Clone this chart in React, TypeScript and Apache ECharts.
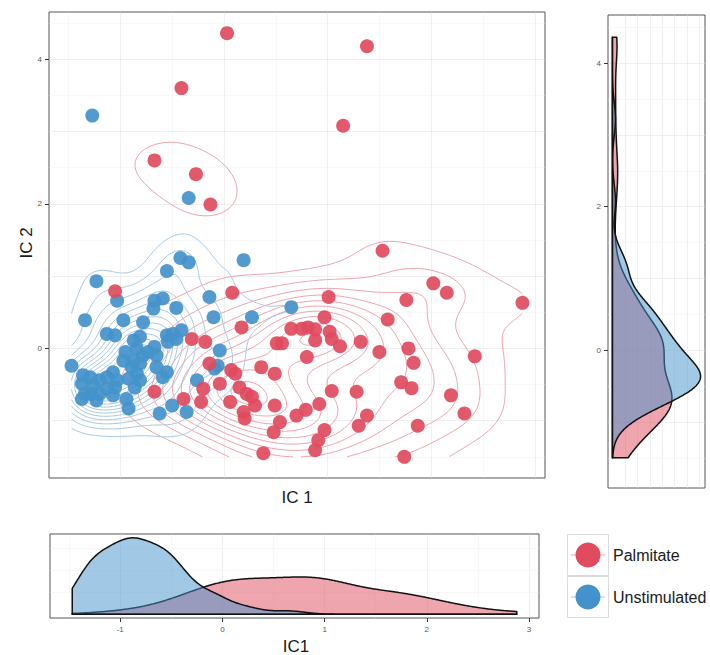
import React, { useEffect, useRef } from "react";
import * as echarts from "echarts";

// IC1 / IC2 scores per cell, one array per condition
const palmitate: [number, number][] = [
  [0.03, 4.36], [-0.41, 3.6], [-0.67, 2.6], [-0.27, 2.41], [-0.13, 1.99], [1.38, 4.18], [1.15, 3.08],
  [-1.05, 0.79], [0.08, 0.77], [0.17, 0.29], [-0.31, 0.13], [-0.18, 0.09], [-0.14, -0.21], [0.07, -0.3],
  [0.11, -0.35], [-0.67, -0.6], [-0.39, -0.7], [-0.22, -0.74], [-0.2, -0.56], [-0.04, -0.49], [0.06, -0.74],
  [0.15, -0.54], [0.22, -0.63], [0.27, -0.67], [0.19, -0.88], [0.2, -0.97], [0.36, -0.26], [0.49, -0.35],
  [0.3, -0.79], [0.49, -0.79], [0.54, -1.02], [0.48, -1.16], [0.51, 0.07], [0.56, 0.07], [0.65, 0.27],
  [0.38, -1.45], [0.75, 0.27], [1.53, 1.35], [2.02, 0.9], [2.15, 0.77], [2.88, 0.63], [1.01, 0.71],
  [1.76, 0.67], [0.97, 0.43], [1.58, 0.4], [0.81, 0.29], [0.88, 0.26], [0.88, 0.11], [1.02, 0.23],
  [1.04, 0.13], [1.12, 0.03], [1.32, 0.09], [1.5, -0.05], [1.78, 0.0], [1.83, -0.2], [0.8, -0.12],
  [2.42, -0.11], [1.04, -0.59], [1.28, -0.6], [1.71, -0.47], [1.81, -0.55], [2.19, -0.65], [2.32, -0.9],
  [0.92, -0.77], [0.79, -0.85], [0.7, -0.93], [1.38, -0.93], [1.3, -1.07], [1.87, -1.07], [0.97, -1.13],
  [0.91, -1.27], [0.88, -1.41], [1.74, -1.5],
];

const unstimulated: [number, number][] = [
  [-1.27, 3.22], [-0.34, 2.08], [-1.23, 0.93], [-0.42, 1.25], [-0.34, 1.19], [-0.55, 1.07], [0.19, 1.22],
  [-1.34, 0.39], [-1.03, 0.66], [-0.97, 0.39], [-0.78, 0.36], [-0.67, 0.66], [-0.59, 0.69], [-0.68, 0.55],
  [-0.46, 0.56], [-0.14, 0.71], [-0.1, 0.43], [0.27, 0.43], [0.65, 0.57], [-1.13, 0.2], [-1.05, 0.18],
  [-0.87, 0.11], [-0.81, 0.16], [-0.55, 0.18], [-0.49, 0.2], [-0.41, 0.25], [-1.47, -0.24], [-0.95, -0.05],
  [-0.84, 0.0], [-0.67, 0.02], [-0.65, -0.1], [-0.54, 0.09], [-0.46, 0.13], [-0.04, -0.03], [-1.36, -0.37],
  [-1.37, -0.49], [-1.34, -0.63], [-1.37, -0.7], [-1.26, -0.51], [-1.2, -0.44], [-1.13, -0.56], [-1.2, -0.63],
  [-1.23, -0.72], [-1.07, -0.33], [-1.03, -0.44], [-1.05, -0.54], [-1.07, -0.65], [-0.97, -0.17], [-0.89, -0.26],
  [-0.81, -0.21], [-0.78, -0.1], [-0.92, -0.42], [-0.84, -0.35], [-0.86, -0.54], [-0.81, -0.44], [-0.94, -0.7],
  [-0.92, -0.83], [-0.65, -0.26], [-0.59, -0.4], [-0.55, -0.33], [-0.62, -0.9], [-0.5, -0.79], [-0.36, -0.88],
  [-0.26, -0.44], [-0.06, -0.24], [-0.09, -0.28], [-1.29, -0.4], [-1.13, -0.4], [-1.28, -0.63], [-0.87, -0.17],
  [-0.73, -0.05],
];

const groupNames = ["Palmitate", "Unstimulated"];
const pointColors = ["#E04B5E", "#4492CB"];
const contourColors = ["#EEA3AE", "#A7CAE2"];
const areaColors = ["rgba(224,75,94,0.5)", "rgba(68,146,203,0.5)"];

const ic2TickLabels = [0, 2, 4];
const ic1TickLabels = [-1, 0, 1, 2, 3];
const ic1GridLines = [-1.5, -1, -0.5, 0, 0.5, 1, 1.5, 2, 2.5, 3];
const ic2GridLines = [-1.5, -1, -0.5, 0, 0.5, 1, 1.5, 2, 2.5, 3, 3.5, 4, 4.5];

const FONT = "'Liberation Sans', Arial, Helvetica, sans-serif";

// ---- small statistics helpers (density estimation like R's density / MASS::kde2d) ----
const dnorm = (u: number) => Math.exp(-0.5 * u * u) / Math.sqrt(2 * Math.PI);

function quantile(sorted: number[], p: number) {
  const h = (sorted.length - 1) * p;
  const lo = Math.floor(h);
  const hi = Math.min(lo + 1, sorted.length - 1);
  return sorted[lo] + (h - lo) * (sorted[hi] - sorted[lo]);
}

function spread(v: number[]) {
  const n = v.length;
  const mean = v.reduce((a, b) => a + b, 0) / n;
  const sd = Math.sqrt(v.reduce((a, b) => a + (b - mean) * (b - mean), 0) / (n - 1));
  const s = [...v].sort((a, b) => a - b);
  const iqr = quantile(s, 0.75) - quantile(s, 0.25);
  return Math.min(sd, iqr / 1.34) || sd;
}

const bwNrd0 = (v: number[]) => 0.9 * spread(v) * Math.pow(v.length, -0.2);
// MASS::bandwidth.nrd / 4, as used by kde2d
const kdeSd = (v: number[]) => 1.06 * spread(v) * Math.pow(v.length, -0.2);

function density1d(v: number[], from: number, to: number, n = 512) {
  const bw = bwNrd0(v);
  const out: [number, number][] = [];
  for (let i = 0; i < n; i++) {
    const g = from + ((to - from) * i) / (n - 1);
    let s = 0;
    for (const x of v) s += dnorm((g - x) / bw);
    out.push([g, s / (v.length * bw)]);
  }
  return out;
}

function kde2d(pts: [number, number][], xr: [number, number], yr: [number, number], n = 100) {
  const xs = pts.map((p) => p[0]);
  const ys = pts.map((p) => p[1]);
  const hx = kdeSd(xs);
  const hy = kdeSd(ys);
  const gx: number[] = [];
  const gy: number[] = [];
  for (let i = 0; i < n; i++) {
    gx.push(xr[0] + ((xr[1] - xr[0]) * i) / (n - 1));
    gy.push(yr[0] + ((yr[1] - yr[0]) * i) / (n - 1));
  }
  const ax = gx.map((g) => xs.map((x) => dnorm((g - x) / hx)));
  const ay = gy.map((g) => ys.map((y) => dnorm((g - y) / hy)));
  const z: number[][] = [];
  for (let i = 0; i < n; i++) {
    const row: number[] = [];
    for (let j = 0; j < n; j++) {
      let s = 0;
      for (let k = 0; k < pts.length; k++) s += ax[i][k] * ay[j][k];
      row.push(s / (pts.length * hx * hy));
    }
    z.push(row);
  }
  return { gx, gy, z };
}

// R's pretty() step choice
function prettyStep(lo: number, hi: number, n: number) {
  const cell = (hi - lo) / n;
  const base = Math.pow(10, Math.floor(Math.log10(cell)));
  let unit = base;
  const h = 1.5;
  const h5 = 0.5 + 1.5 * h;
  if (2 * base - cell < h * (cell - unit)) {
    unit = 2 * base;
    if (5 * base - cell < h5 * (cell - unit)) {
      unit = 5 * base;
      if (10 * base - cell < h * (cell - unit)) unit = 10 * base;
    }
  }
  return unit;
}

// marching squares, chained into polylines
function isolines(gx: number[], gy: number[], z: number[][], level: number) {
  const pos = new Map<string, [number, number]>();
  const adj = new Map<string, string[]>();
  const link = (a: string, b: string) => {
    if (!adj.has(a)) adj.set(a, []);
    if (!adj.has(b)) adj.set(b, []);
    adj.get(a)!.push(b);
    adj.get(b)!.push(a);
  };
  const lerp = (a: number, b: number, va: number, vb: number) => a + ((level - va) / (vb - va)) * (b - a);
  for (let i = 0; i < gx.length - 1; i++) {
    for (let j = 0; j < gy.length - 1; j++) {
      const v00 = z[i][j], v10 = z[i + 1][j], v11 = z[i + 1][j + 1], v01 = z[i][j + 1];
      const b00 = v00 >= level, b10 = v10 >= level, b11 = v11 >= level, b01 = v01 >= level;
      const e: Record<string, string> = {};
      if (b00 !== b10) {
        const k = `h${i},${j}`;
        pos.set(k, [lerp(gx[i], gx[i + 1], v00, v10), gy[j]]);
        e.bottom = k;
      }
      if (b10 !== b11) {
        const k = `v${i + 1},${j}`;
        pos.set(k, [gx[i + 1], lerp(gy[j], gy[j + 1], v10, v11)]);
        e.right = k;
      }
      if (b01 !== b11) {
        const k = `h${i},${j + 1}`;
        pos.set(k, [lerp(gx[i], gx[i + 1], v01, v11), gy[j + 1]]);
        e.top = k;
      }
      if (b00 !== b01) {
        const k = `v${i},${j}`;
        pos.set(k, [gx[i], lerp(gy[j], gy[j + 1], v00, v01)]);
        e.left = k;
      }
      const keys = Object.values(e);
      if (keys.length === 2) link(keys[0], keys[1]);
      else if (keys.length === 4) {
        const center = (v00 + v10 + v11 + v01) / 4 >= level;
        if (center === b00) {
          link(e.bottom, e.right);
          link(e.left, e.top);
        } else {
          link(e.bottom, e.left);
          link(e.top, e.right);
        }
      }
    }
  }
  const used = new Set<string>();
  const sid = (a: string, b: string) => (a < b ? a + "|" + b : b + "|" + a);
  const walk = (start: string) => {
    const path = [start];
    let cur = start;
    for (;;) {
      let next: string | null = null;
      for (const nb of adj.get(cur) || []) {
        const s = sid(cur, nb);
        if (!used.has(s)) {
          used.add(s);
          next = nb;
          break;
        }
      }
      if (next === null) break;
      path.push(next);
      cur = next;
    }
    return path;
  };
  const lines: [number, number][][] = [];
  const starts = [...adj.keys()].filter((k) => adj.get(k)!.length === 1);
  for (const k of [...starts, ...adj.keys()]) {
    const p = walk(k);
    if (p.length > 1) lines.push(p.map((q) => pos.get(q)!));
  }
  return lines;
}

function buildOption() {
  const groups = [palmitate, unstimulated];
  const all = [...palmitate, ...unstimulated];
  const xs = all.map((p) => p[0]);
  const ys = all.map((p) => p[1]);
  const xr: [number, number] = [Math.min(...xs), Math.max(...xs)];
  const yr: [number, number] = [Math.min(...ys), Math.max(...ys)];
  const xPad = (xr[1] - xr[0]) * 0.05;
  const yPad = (yr[1] - yr[0]) * 0.05;
  const xLo = xr[0] - xPad, xHi = xr[1] + xPad;
  const yLo = yr[0] - yPad, yHi = yr[1] + yPad;
  const sideLo = -1.92, sideHi = 4.67;

  // contour lines per condition
  const contourSeries = groups.map((pts, gi) => {
    const { gx, gy, z } = kde2d(pts, xr, yr, 100);
    let zMax = 0;
    for (const r of z) for (const v of r) zMax = Math.max(zMax, v);
    const step = prettyStep(0, zMax, 10);
    const polylines: [number, number][][] = [];
    for (let lv = step; lv < zMax; lv += step) polylines.push(...isolines(gx, gy, z, lv));
    return {
      type: "lines",
      coordinateSystem: "cartesian2d",
      xAxisIndex: 0,
      yAxisIndex: 0,
      polyline: true,
      silent: true,
      z: 2,
      lineStyle: { color: contourColors[gi], width: 1, opacity: 1 },
      data: polylines.map((c) => ({ coords: c })),
    };
  });

  // marginal densities
  const densX = groups.map((pts) => density1d(pts.map((p) => p[0]), xr[0], xr[1]));
  const densY = groups.map((pts) => density1d(pts.map((p) => p[1]), yr[0], yr[1]));
  const maxX = Math.max(...densX.flat().map((d) => d[1]));
  const maxY = Math.max(...densY.flat().map((d) => d[1]));

  const polygonSeries = (poly: number[][], fill: string, axisIndex: number) => ({
    type: "custom",
    xAxisIndex: axisIndex,
    yAxisIndex: axisIndex,
    silent: true,
    z: 3,
    data: [[poly[0][0], poly[0][1]]],
    renderItem: (_params: any, api: any) => ({
      type: "polygon",
      shape: { points: poly.map((p) => api.coord(p)) },
      style: { fill, stroke: "#111", lineWidth: 1.5, lineJoin: "round" },
    }),
  });

  const bottomAreas = densX.map((d, gi) =>
    polygonSeries([[xr[0], 0], ...d, [xr[1], 0]], areaColors[gi], 2)
  );
  const sideAreas = densY.map((d, gi) =>
    polygonSeries([[0, yr[0]], ...d.map(([g, v]) => [v, g]), [0, yr[1]]], areaColors[gi], 1)
  );

  // grid lines
  const gridLineSeries = (data: any[], axisIndex: number) => ({
    type: "lines",
    coordinateSystem: "cartesian2d",
    xAxisIndex: axisIndex,
    yAxisIndex: axisIndex,
    silent: true,
    z: 1,
    data,
  });
  const vLine = (v: number, lo: number, hi: number, major: boolean) => ({
    coords: [[v, lo], [v, hi]],
    lineStyle: { color: major ? "#E2E2E2" : "#EEEEEE", width: major ? 1 : 0.8 },
  });
  const hLine = (v: number, lo: number, hi: number, major: boolean) => ({
    coords: [[lo, v], [hi, v]],
    lineStyle: { color: major ? "#E2E2E2" : "#EEEEEE", width: major ? 1 : 0.8 },
  });

  const mainGrid = [
    ...ic1GridLines.map((v) => vLine(v, yLo, yHi, Number.isInteger(v))),
    ...ic2GridLines.filter((v) => v > yLo && v < yHi).map((v) => hLine(v, xLo, xHi, v % 1 === 0)),
  ];
  const sideStep = prettyStep(0, maxY, 3);
  const sideV: number[] = [];
  for (let v = sideStep / 2; v < maxY * 1.05; v += sideStep / 2) sideV.push(v);
  const sideGrid = [
    ...sideV.map((v) => vLine(v, sideLo, sideHi, true)),
    ...ic2GridLines.filter((v) => v > sideLo && v < sideHi).map((v) => hLine(v, -0.05 * maxY, 1.05 * maxY, v % 1 === 0)),
  ];
  const bottomStep = prettyStep(0, maxX, 3);
  const bottomH: number[] = [];
  for (let v = bottomStep / 2; v < maxX * 1.05; v += bottomStep / 2) bottomH.push(v);
  const bottomGrid = [
    ...ic1GridLines.map((v) => vLine(v, -0.05 * maxX, 1.05 * maxX, Number.isInteger(v))),
    ...bottomH.map((v) => hLine(v, xLo, xHi, false)),
  ];

  const hidden = {
    type: "value",
    axisLine: { show: false, onZero: false },
    axisTick: { show: false },
    axisLabel: { show: false },
    splitLine: { show: false },
  };
  const tickAxis = (values: number[]) => ({
    type: "value",
    axisLine: { show: false, onZero: false },
    splitLine: { show: false },
    axisTick: { show: true, customValues: values, length: 4, lineStyle: { color: "#333", width: 1 } },
    axisLabel: { show: true, customValues: values, fontSize: 8, color: "#555", margin: 7, fontFamily: FONT },
  });

  const gridBox = { show: true, borderColor: "#555", borderWidth: 1, backgroundColor: "#fff" };

  const legendY = [555, 597];
  const legendGraphics: any[] = [
    { type: "rect", shape: { x: 567.5, y: 534.5, width: 41, height: 41 }, style: { fill: "#fff", stroke: "#DADADA", lineWidth: 1 } },
    { type: "rect", shape: { x: 567.5, y: 576.5, width: 41, height: 41 }, style: { fill: "#fff", stroke: "#DADADA", lineWidth: 1 } },
  ];
  groupNames.forEach((name, gi) => {
    legendGraphics.push(
      { type: "line", shape: { x1: 571, y1: legendY[gi], x2: 605, y2: legendY[gi] }, style: { stroke: contourColors[gi], lineWidth: 1 } },
      { type: "circle", shape: { cx: 588, cy: legendY[gi], r: 12.5 }, style: { fill: pointColors[gi] } },
      {
        type: "text",
        x: 613,
        y: legendY[gi],
        style: { text: name, fill: "#1A1A1A", font: `16px ${FONT}`, textAlign: "left", textVerticalAlign: "middle" },
      }
    );
  });

  const titles: any[] = [
    {
      type: "text",
      x: 26,
      y: 243,
      rotation: Math.PI / 2,
      style: { text: "IC 2", fill: "#1A1A1A", font: `17px ${FONT}`, textAlign: "center", textVerticalAlign: "middle" },
    },
    {
      type: "text",
      x: 297,
      y: 497,
      style: { text: "IC 1", fill: "#1A1A1A", font: `17px ${FONT}`, textAlign: "center", textVerticalAlign: "middle" },
    },
    {
      type: "text",
      x: 296,
      y: 646,
      style: { text: "IC1", fill: "#1A1A1A", font: `17px ${FONT}`, textAlign: "center", textVerticalAlign: "middle" },
    },
  ];

  return {
    animation: false,
    backgroundColor: "#fff",
    grid: [
      { left: 49, top: 12, width: 496, height: 466, ...gridBox },
      { left: 608, top: 15, width: 97, height: 473, ...gridBox },
      { left: 50, top: 534, width: 489, height: 84, ...gridBox },
    ],
    xAxis: [
      { ...hidden, gridIndex: 0, min: xLo, max: xHi },
      { ...hidden, gridIndex: 1, min: -0.05 * maxY, max: 1.05 * maxY },
      { ...tickAxis(ic1TickLabels), gridIndex: 2, min: xLo, max: xHi },
    ],
    yAxis: [
      { ...tickAxis(ic2TickLabels), gridIndex: 0, min: yLo, max: yHi },
      { ...tickAxis(ic2TickLabels), gridIndex: 1, min: sideLo, max: sideHi },
      { ...hidden, gridIndex: 2, min: -0.05 * maxX, max: 1.05 * maxX },
    ],
    graphic: { elements: [...titles, ...legendGraphics] },
    series: [
      gridLineSeries(mainGrid, 0),
      gridLineSeries(sideGrid, 1),
      gridLineSeries(bottomGrid, 2),
      ...contourSeries,
      {
        type: "scatter",
        name: groupNames[1],
        xAxisIndex: 0,
        yAxisIndex: 0,
        symbolSize: 14,
        z: 4,
        itemStyle: { color: pointColors[1], opacity: 0.92 },
        data: unstimulated,
      },
      {
        type: "scatter",
        name: groupNames[0],
        xAxisIndex: 0,
        yAxisIndex: 0,
        symbolSize: 14,
        z: 4,
        itemStyle: { color: pointColors[0], opacity: 0.92 },
        data: palmitate,
      },
      ...bottomAreas,
      ...sideAreas,
    ],
  };
}

export default function App() {
  const ref = useRef<HTMLDivElement>(null);
  useEffect(() => {
    const chart = echarts.init(ref.current!, null, { renderer: "svg" });
    chart.setOption(buildOption() as any);
    return () => chart.dispose();
  }, []);
  return (
    <div
      ref={ref}
      style={{ position: "absolute", left: 0, top: 0, width: 710, height: 655, background: "#fff" }}
    />
  );
}
